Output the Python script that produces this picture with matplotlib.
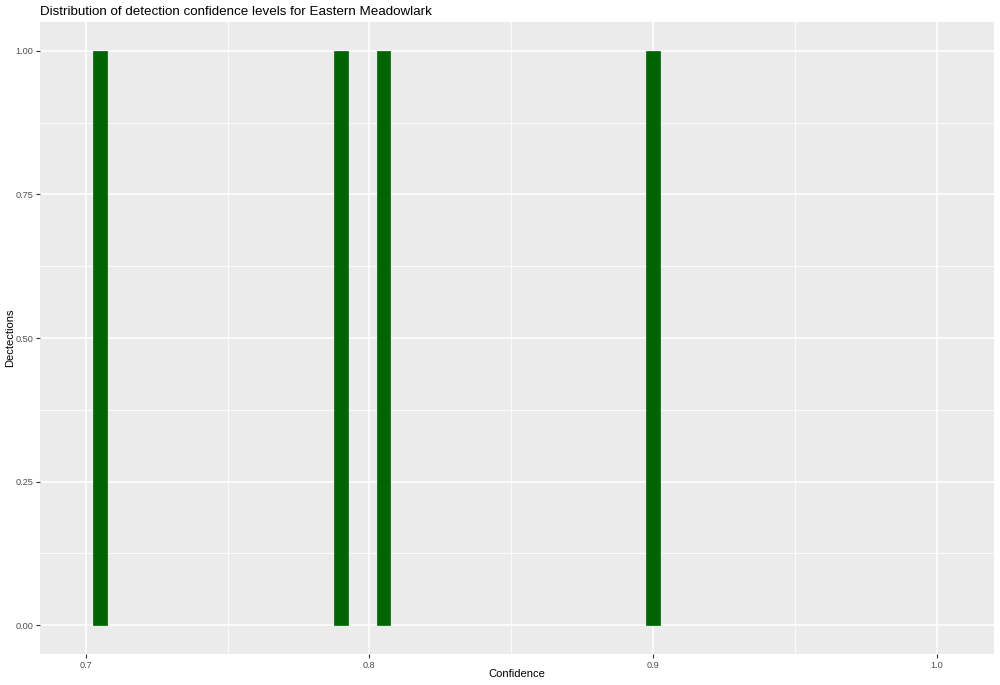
import numpy as np
import matplotlib.pyplot as plt

plt.rcParams["font.family"] = ["Liberation Sans", "DejaVu Sans"]

# histogram bins that hold one detection each
bin_centers = [0.7051, 0.7900, 0.8050, 0.9000]
counts = [1, 1, 1, 1]
bin_width = 0.0047

x_ticks = [0.7, 0.8, 0.9, 1.0]
x_labels = ["0.7", "0.8", "0.9", "1.0"]
y_ticks = [0.0, 0.25, 0.5, 0.75, 1.0]
y_labels = ["0.00", "0.25", "0.50", "0.75", "1.00"]

fig = plt.figure(figsize=(10, 6.85), dpi=100)
ax = fig.add_axes([0.040, (685 - 654) / 685, 0.9543, (654 - 22) / 685])
ax.set_facecolor("#EBEBEB")

ax.bar(bin_centers, counts, width=bin_width, color="#006400",
       edgecolor="#006400", linewidth=0.5, zorder=3)

ax.set_xlim(0.6839, 1.0203)
ax.set_ylim(-0.0505, 1.0505)

ax.set_xticks(x_ticks)
ax.set_xticklabels(x_labels)
ax.set_yticks(y_ticks)
ax.set_yticklabels(y_labels)
ax.set_xticks([0.75, 0.85, 0.95], minor=True)
ax.set_yticks([0.125, 0.375, 0.625, 0.875], minor=True)

ax.grid(which="major", color="white", linewidth=1.1, zorder=1)
ax.grid(which="minor", color="white", linewidth=0.55, zorder=1)
ax.set_axisbelow(True)

for s in ax.spines.values():
    s.set_visible(False)

ax.tick_params(which="major", length=2.7, width=0.8, color="#333333",
               labelsize=6.6, labelcolor="#4D4D4D", pad=2)
ax.tick_params(which="minor", length=0)

ax.set_xlabel("Confidence", fontsize=8, va="center")
ax.set_ylabel("Dectections", fontsize=8, va="center")
ax.xaxis.set_label_coords(0.5, -0.0316)
ax.yaxis.set_label_coords(-0.0314, 0.5)
ax.set_title("Distribution of detection confidence levels for Eastern Meadowlark",
             fontsize=9.6, loc="left", pad=5)

fig.savefig("out.png", dpi=100)
